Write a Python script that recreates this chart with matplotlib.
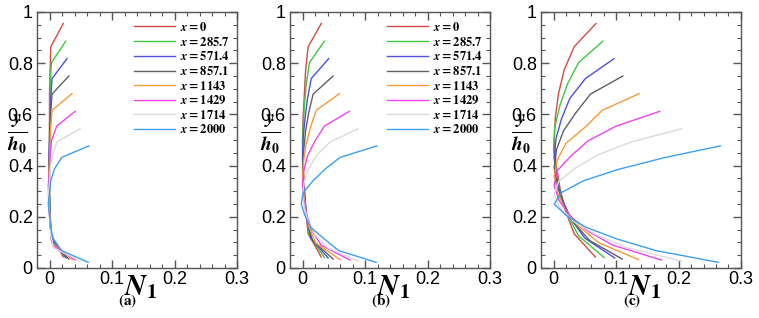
import matplotlib
matplotlib.use("Agg")
import matplotlib.pyplot as plt
from matplotlib.ticker import MultipleLocator

plt.rcParams['font.family'] = ['Liberation Sans', 'DejaVu Sans']
plt.rcParams['mathtext.fontset'] = 'stix'

# x stations (legend) and line colours
stations = ['0', '285.7', '571.4', '857.1', '1143', '1429', '1714', '2000']
colors = ['#d44a45', '#3ec93e', '#4f4fe0', '#606060', '#f59a3a', '#ee44ee', '#dadada', '#3d9ff0']

# y/h0 sample points for each station (bottom -> top)
y_pts = [
    [0.043, 0.134, 0.225, 0.317, 0.408, 0.499, 0.590, 0.681, 0.773, 0.864, 0.955],
    [0.041, 0.126, 0.210, 0.295, 0.379, 0.464, 0.548, 0.633, 0.717, 0.802, 0.886],
    [0.039, 0.117, 0.195, 0.273, 0.351, 0.429, 0.506, 0.584, 0.662, 0.740, 0.818],
    [0.035, 0.107, 0.178, 0.250, 0.321, 0.393, 0.464, 0.536, 0.607, 0.679, 0.750],
    [0.033, 0.098, 0.163, 0.227, 0.292, 0.357, 0.422, 0.487, 0.551, 0.616, 0.681],
    [0.031, 0.089, 0.147, 0.205, 0.263, 0.322, 0.380, 0.438, 0.496, 0.554, 0.612],
    [0.027, 0.079, 0.130, 0.182, 0.234, 0.286, 0.337, 0.389, 0.441, 0.492, 0.544],
    [0.022, 0.068, 0.113, 0.159, 0.204, 0.250, 0.295, 0.341, 0.386, 0.432, 0.477],
]

# N1 values, panel (a)
n1_a = [
    [0.022, 0.002, 0.001, 0.000, 0.000, 0.000, 0.000, 0.000, 0.001, 0.002, 0.022],
    [0.025, 0.003, 0.001, 0.000, 0.000, 0.000, 0.000, 0.001, 0.001, 0.003, 0.026],
    [0.027, 0.003, 0.001, 0.000, -0.001, -0.001, 0.000, 0.001, 0.002, 0.004, 0.028],
    [0.031, 0.003, 0.001, 0.000, -0.001, -0.001, 0.000, 0.001, 0.002, 0.004, 0.031],
    [0.036, 0.004, 0.001, 0.000, -0.001, -0.001, 0.000, 0.001, 0.002, 0.004, 0.036],
    [0.041, 0.005, 0.002, 0.000, -0.001, -0.002, 0.000, 0.001, 0.003, 0.0115, 0.041],
    [0.049, 0.006, 0.002, 0.001, -0.001, -0.002, 0.000, 0.001, 0.005, 0.0115, 0.049],
    [0.062, 0.0195, 0.006, 0.002, 0.000, -0.002, 0.000, 0.002, 0.0077, 0.0195, 0.063],
]

# N1 values, panel (b)
n1_b = [
    [0.030, 0.009, 0.005, 0.003, 0.001, 0.000, 0.001, 0.003, 0.005, 0.009, 0.030],
    [0.035, 0.011, 0.006, 0.003, 0.001, 0.000, 0.001, 0.003, 0.006, 0.011, 0.035],
    [0.041, 0.013, 0.007, 0.004, 0.001, 0.000, 0.001, 0.004, 0.008, 0.014, 0.042],
    [0.049, 0.016, 0.008, 0.004, 0.001, 0.000, 0.002, 0.005, 0.010, 0.017, 0.049],
    [0.060, 0.021, 0.010, 0.005, 0.002, 0.000, 0.002, 0.006, 0.013, 0.022, 0.059],
    [0.076, 0.030, 0.015, 0.007, 0.002, 0.000, 0.002, 0.008, 0.020, 0.035, 0.075],
    [0.089, 0.040, 0.020, 0.009, 0.003, 0.000, 0.003, 0.010, 0.023, 0.044, 0.089],
    [0.118, 0.058, 0.035, 0.013, 0.004, -0.002, 0.001, 0.017, 0.036, 0.060, 0.119],
]

# N1 values, panel (c)
n1_c = [
    [0.067, 0.033, 0.019, 0.010, 0.004, 0.001, 0.003, 0.008, 0.017, 0.033, 0.068],
    [0.081, 0.040, 0.022, 0.011, 0.004, 0.000, 0.002, 0.010, 0.022, 0.040, 0.079],
    [0.098, 0.050, 0.027, 0.013, 0.005, 0.001, 0.004, 0.013, 0.026, 0.051, 0.097],
    [0.110, 0.058, 0.032, 0.016, 0.006, 0.001, 0.005, 0.016, 0.036, 0.059, 0.111],
    [0.136, 0.073, 0.040, 0.019, 0.007, 0.001, 0.006, 0.020, 0.051, 0.078, 0.137],
    [0.173, 0.095, 0.053, 0.026, 0.009, 0.001, 0.006, 0.028, 0.055, 0.100, 0.170],
    [0.205, 0.118, 0.068, 0.032, 0.011, 0.001, 0.008, 0.034, 0.070, 0.124, 0.205],
    [0.264, 0.164, 0.102, 0.052, 0.021, 0.001, 0.013, 0.048, 0.105, 0.179, 0.267],
]

panels = [n1_a, n1_b, n1_c]
tags = ['(a)', '(b)', '(c)']
lefts = [37 / 759, 290 / 759, 541 / 759]

fig = plt.figure(figsize=(7.59, 3.18), dpi=100)

for k in range(3):
    ax = fig.add_axes([lefts[k], 1 - 268 / 318, 200 / 759, 256 / 318])
    for i in range(8):
        ax.plot(panels[k][i], y_pts[i], color=colors[i], lw=1.0,
                label=r'$\boldsymbol{x}\mathbf{=' + stations[i] + '}$')
    ax.set_xlim(-0.02, 0.3)
    ax.set_ylim(0, 1)
    ax.xaxis.set_minor_locator(MultipleLocator(0.02))
    ax.yaxis.set_minor_locator(MultipleLocator(0.05))
    ax.set_xticks([0, 0.1, 0.2, 0.3])
    ax.set_xticklabels(['0', '0.1', '0.2', '0.3'])
    ax.set_yticks([0, 0.2, 0.4, 0.6, 0.8, 1.0])
    ax.set_yticklabels(['0', '0.2', '0.4', '0.6', '0.8', '1'])
    ax.tick_params(which='both', direction='in', top=True, right=True,
                   color='#555555', labelsize=13)
    ax.tick_params(which='major', length=6, width=1)
    ax.tick_params(which='minor', length=3, width=0.8)
    ax.tick_params(axis='x', pad=2)
    ax.tick_params(axis='y', pad=3)
    for s in ax.spines.values():
        s.set_color('#555555')
        s.set_linewidth(1)

    ax.text(-0.10, 0.52, r'$\frac{\boldsymbol{y}}{\boldsymbol{h}_\mathbf{0}}$',
            transform=ax.transAxes, fontsize=20, ha='center', va='center')
    ax.text(0.52, -0.105, r'$\boldsymbol{N}_\mathbf{1}$', transform=ax.transAxes,
            fontsize=21, ha='center', va='baseline')
    ax.text(0.455, -0.128, r'$\mathbf{' + tags[k] + '}$', transform=ax.transAxes,
            fontsize=11, ha='center', va='center')

    if k < 2:
        ax.legend(loc='upper left', bbox_to_anchor=(0.46, 0.985), frameon=False,
                  fontsize=9, handlelength=3.3, labelspacing=0.14,
                  handletextpad=0.4, borderaxespad=0)

fig.savefig('out.png', dpi=100)
